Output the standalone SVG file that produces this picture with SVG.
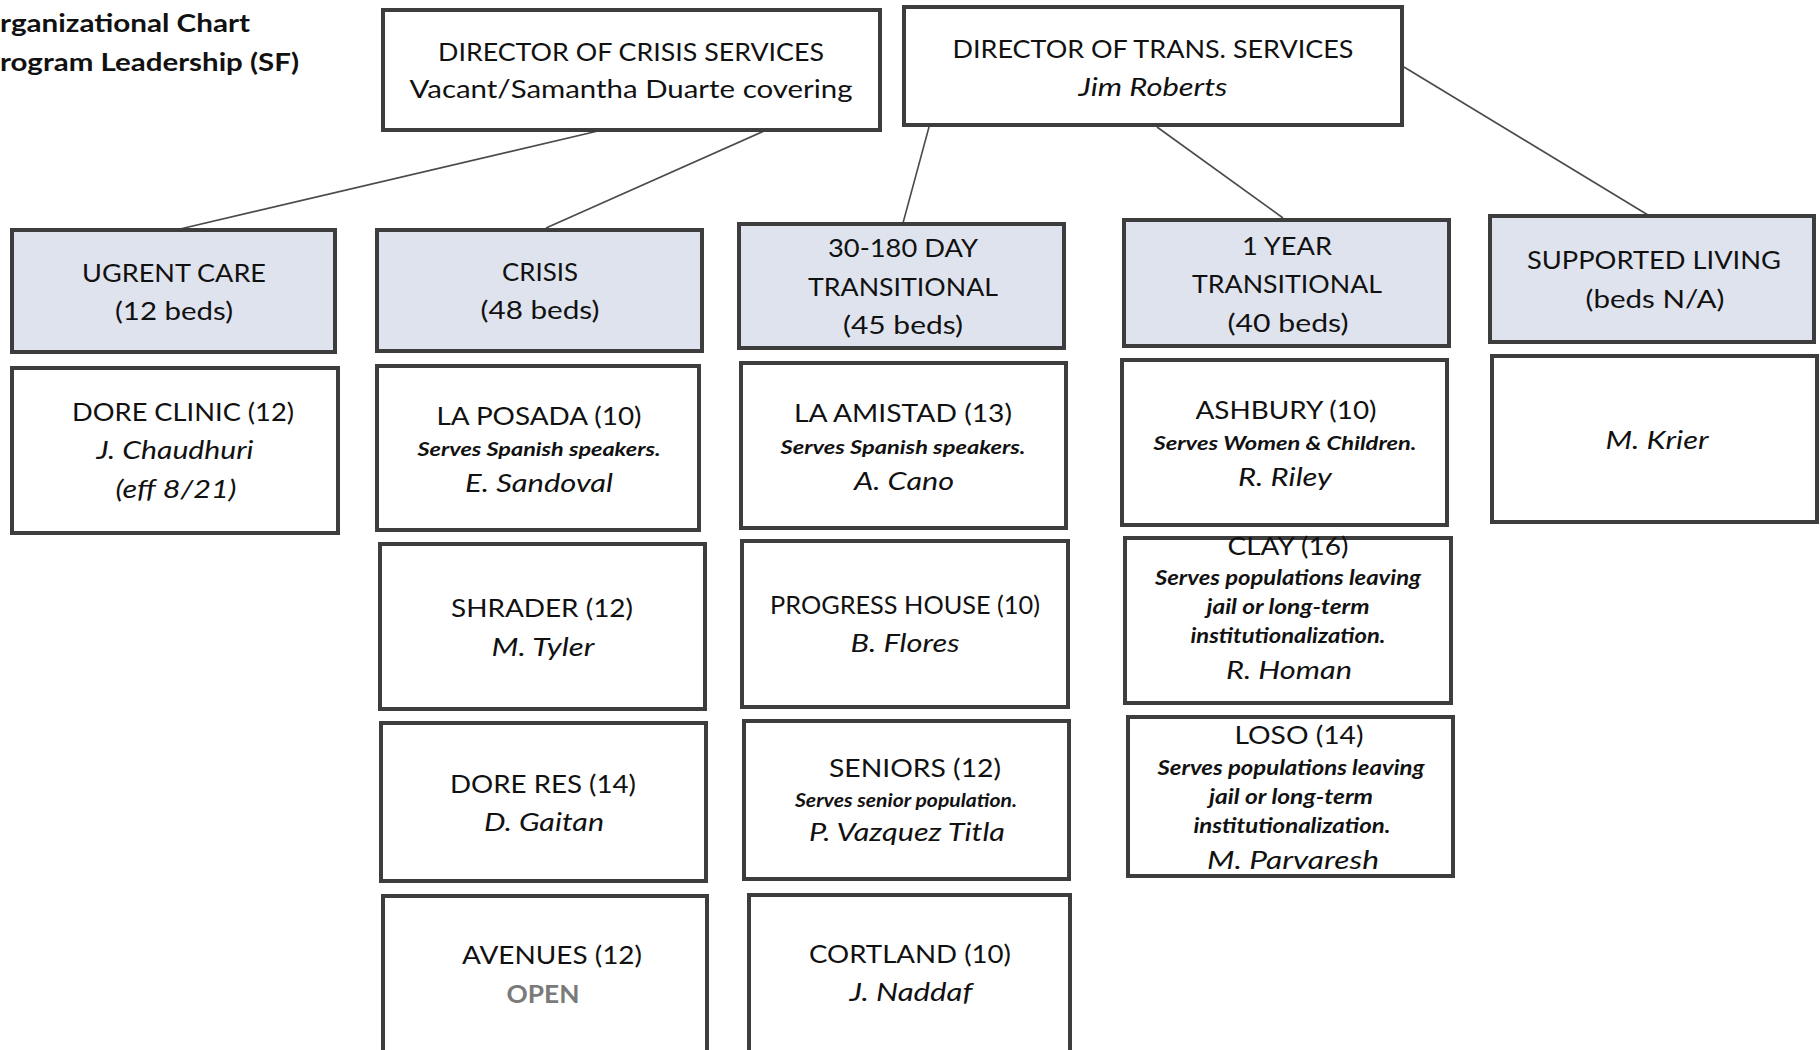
<svg xmlns="http://www.w3.org/2000/svg" width="1820" height="1050" viewBox="0 0 1820 1050">
<style>
text{font-family:Lato,"Noto Sans","Liberation Sans",sans-serif;fill:#111;text-anchor:middle}
.t{font-size:25px}
.i{font-size:25px;font-style:italic}
.s{font-size:18px;font-style:italic;font-weight:bold}
.d{font-size:20px;font-style:italic;font-weight:bold}
.h{font-size:24px;font-weight:bold;text-anchor:start}
.open{font-size:25px;font-weight:bold;fill:#7a7a7a}
.box{fill:#fff;stroke:#3d3d3d;stroke-width:4}
.cat{fill:#dfe3ee;stroke:#3d3d3d;stroke-width:4}
.ln{stroke:#4a4a4a;stroke-width:1.6;fill:none}
</style>
<rect width="1820" height="1050" fill="#fff"/>
<g id="title">
<text class="h" x="0" y="32" textLength="250" lengthAdjust="spacingAndGlyphs">rganizational Chart</text>
<text class="h" x="0" y="71" textLength="299" lengthAdjust="spacingAndGlyphs">rogram Leadership (SF)</text>
</g>
<g id="connectors">
<line class="ln" x1="598" y1="131" x2="180" y2="229"/>
<line class="ln" x1="764" y1="131" x2="546" y2="228"/>
<line class="ln" x1="929" y1="127" x2="903" y2="223"/>
<line class="ln" x1="1157" y1="127" x2="1283" y2="218"/>
<line class="ln" x1="1404" y1="67" x2="1648" y2="215"/>
</g>
<g id="dir-crisis">
<rect class="box" x="383" y="10" width="497" height="120"/>
<text class="t" x="631" y="61" textLength="386" lengthAdjust="spacingAndGlyphs">DIRECTOR OF CRISIS SERVICES</text>
<text class="t" x="631" y="98" textLength="443" lengthAdjust="spacingAndGlyphs">Vacant/Samantha Duarte covering</text>
</g>
<g id="dir-trans">
<rect class="box" x="904" y="7" width="498" height="118"/>
<text class="t" x="1153" y="58" textLength="401" lengthAdjust="spacingAndGlyphs">DIRECTOR OF TRANS. SERVICES</text>
<text class="i" x="1153" y="96" textLength="149" lengthAdjust="spacingAndGlyphs">Jim Roberts</text>
</g>
<g id="cat-urgent">
<rect class="cat" x="12" y="230" width="323" height="122"/>
<text class="t" x="174" y="282" textLength="184" lengthAdjust="spacingAndGlyphs">UGRENT CARE</text>
<text class="t" x="174" y="320" textLength="118" lengthAdjust="spacingAndGlyphs">(12 beds)</text>
</g>
<g id="cat-crisis">
<rect class="cat" x="377" y="230" width="325" height="121"/>
<text class="t" x="540" y="281" textLength="76" lengthAdjust="spacingAndGlyphs">CRISIS</text>
<text class="t" x="540" y="319" textLength="119" lengthAdjust="spacingAndGlyphs">(48 beds)</text>
</g>
<g id="cat-30-180">
<rect class="cat" x="739" y="224" width="325" height="124"/>
<text class="t" x="903" y="257" textLength="150" lengthAdjust="spacingAndGlyphs">30-180 DAY</text>
<text class="t" x="903" y="296" textLength="190" lengthAdjust="spacingAndGlyphs">TRANSITIONAL</text>
<text class="t" x="903" y="334" textLength="120" lengthAdjust="spacingAndGlyphs">(45 beds)</text>
</g>
<g id="cat-1year">
<rect class="cat" x="1124" y="220" width="325" height="126"/>
<text class="t" x="1287" y="255" textLength="90" lengthAdjust="spacingAndGlyphs">1 YEAR</text>
<text class="t" x="1287" y="293" textLength="190" lengthAdjust="spacingAndGlyphs">TRANSITIONAL</text>
<text class="t" x="1288" y="332" textLength="121" lengthAdjust="spacingAndGlyphs">(40 beds)</text>
</g>
<g id="cat-supported">
<rect class="cat" x="1490" y="216" width="324" height="126"/>
<text class="t" x="1654" y="269" textLength="254" lengthAdjust="spacingAndGlyphs">SUPPORTED LIVING</text>
<text class="t" x="1655" y="308" textLength="139" lengthAdjust="spacingAndGlyphs">(beds N/A)</text>
</g>
<g id="dore-clinic">
<rect class="box" x="12" y="368" width="326" height="165"/>
<text class="t" x="183" y="421" textLength="222" lengthAdjust="spacingAndGlyphs">DORE CLINIC (12)</text>
<text class="i" x="175" y="459" textLength="157" lengthAdjust="spacingAndGlyphs">J. Chaudhuri</text>
<text class="i" x="176" y="498" textLength="121" lengthAdjust="spacingAndGlyphs">(eff 8/21)</text>
</g>
<g id="la-posada">
<rect class="box" x="377" y="366" width="322" height="164"/>
<text class="t" x="539" y="425" textLength="205" lengthAdjust="spacingAndGlyphs">LA POSADA (10)</text>
<text class="s" x="539" y="456" textLength="243" lengthAdjust="spacingAndGlyphs">Serves Spanish speakers.</text>
<text class="i" x="539" y="492" textLength="148" lengthAdjust="spacingAndGlyphs">E. Sandoval</text>
</g>
<g id="shrader">
<rect class="box" x="380" y="544" width="325" height="165"/>
<text class="t" x="542" y="617" textLength="182" lengthAdjust="spacingAndGlyphs">SHRADER (12)</text>
<text class="i" x="543" y="656" textLength="103" lengthAdjust="spacingAndGlyphs">M. Tyler</text>
</g>
<g id="dore-res">
<rect class="box" x="381" y="723" width="325" height="158"/>
<text class="t" x="543" y="793" textLength="186" lengthAdjust="spacingAndGlyphs">DORE RES (14)</text>
<text class="i" x="544" y="831" textLength="120" lengthAdjust="spacingAndGlyphs">D. Gaitan</text>
</g>
<g id="avenues">
<rect class="box" x="383" y="896" width="324" height="170"/>
<text class="t" x="552" y="964" textLength="180" lengthAdjust="spacingAndGlyphs">AVENUES (12)</text>
<text class="open" x="543" y="1003" textLength="73" lengthAdjust="spacingAndGlyphs">OPEN</text>
</g>
<g id="la-amistad">
<rect class="box" x="741" y="363" width="325" height="165"/>
<text class="t" x="903" y="422" textLength="218" lengthAdjust="spacingAndGlyphs">LA AMISTAD (13)</text>
<text class="s" x="903" y="454" textLength="245" lengthAdjust="spacingAndGlyphs">Serves Spanish speakers.</text>
<text class="i" x="904" y="490" textLength="100" lengthAdjust="spacingAndGlyphs">A. Cano</text>
</g>
<g id="progress-house">
<rect class="box" x="742" y="541" width="326" height="166"/>
<text class="t" x="905" y="614" textLength="270" lengthAdjust="spacingAndGlyphs">PROGRESS HOUSE (10)</text>
<text class="i" x="905" y="652" textLength="109" lengthAdjust="spacingAndGlyphs">B. Flores</text>
</g>
<g id="seniors">
<rect class="box" x="744" y="721" width="325" height="158"/>
<text class="t" x="915" y="777" textLength="172" lengthAdjust="spacingAndGlyphs">SENIORS (12)</text>
<text class="s" x="906" y="807" font-size="17" textLength="222" lengthAdjust="spacingAndGlyphs">Serves senior population.</text>
<text class="i" x="907" y="841" textLength="196" lengthAdjust="spacingAndGlyphs">P. Vazquez Titla</text>
</g>
<g id="cortland">
<rect class="box" x="749" y="895" width="321" height="170"/>
<text class="t" x="910" y="963" textLength="202" lengthAdjust="spacingAndGlyphs">CORTLAND (10)</text>
<text class="i" x="911" y="1001" textLength="123" lengthAdjust="spacingAndGlyphs">J. Naddaf</text>
</g>
<g id="ashbury">
<rect class="box" x="1122" y="360" width="325" height="165"/>
<text class="t" x="1286" y="419" textLength="181" lengthAdjust="spacingAndGlyphs">ASHBURY (10)</text>
<text class="s" x="1285" y="450" textLength="263" lengthAdjust="spacingAndGlyphs">Serves Women &amp; Children.</text>
<text class="i" x="1285" y="486" textLength="94" lengthAdjust="spacingAndGlyphs">R. Riley</text>
</g>
<g id="clay">
<rect class="box" x="1125" y="538" width="326" height="165"/>
<text class="t" x="1288" y="555" textLength="121" lengthAdjust="spacingAndGlyphs">CLAY (16)</text>
<text class="d" x="1288" y="585" textLength="266" lengthAdjust="spacingAndGlyphs">Serves populations leaving</text>
<text class="d" x="1288" y="614" textLength="163" lengthAdjust="spacingAndGlyphs">jail or long-term</text>
<text class="d" x="1288" y="643" textLength="195" lengthAdjust="spacingAndGlyphs">institutionalization.</text>
<text class="i" x="1289" y="679" textLength="126" lengthAdjust="spacingAndGlyphs">R. Homan</text>
</g>
<g id="loso">
<rect class="box" x="1128" y="717" width="325" height="159"/>
<text class="t" x="1299" y="744" textLength="129" lengthAdjust="spacingAndGlyphs">LOSO (14)</text>
<text class="d" x="1291" y="775" textLength="267" lengthAdjust="spacingAndGlyphs">Serves populations leaving</text>
<text class="d" x="1291" y="804" textLength="164" lengthAdjust="spacingAndGlyphs">jail or long-term</text>
<text class="d" x="1292" y="833" textLength="197" lengthAdjust="spacingAndGlyphs">institutionalization.</text>
<text class="i" x="1293" y="869" textLength="172" lengthAdjust="spacingAndGlyphs">M. Parvaresh</text>
</g>
<g id="m-krier">
<rect class="box" x="1492" y="356" width="325" height="166"/>
<text class="i" x="1657" y="449" textLength="103" lengthAdjust="spacingAndGlyphs">M. Krier</text>
</g>
</svg>
